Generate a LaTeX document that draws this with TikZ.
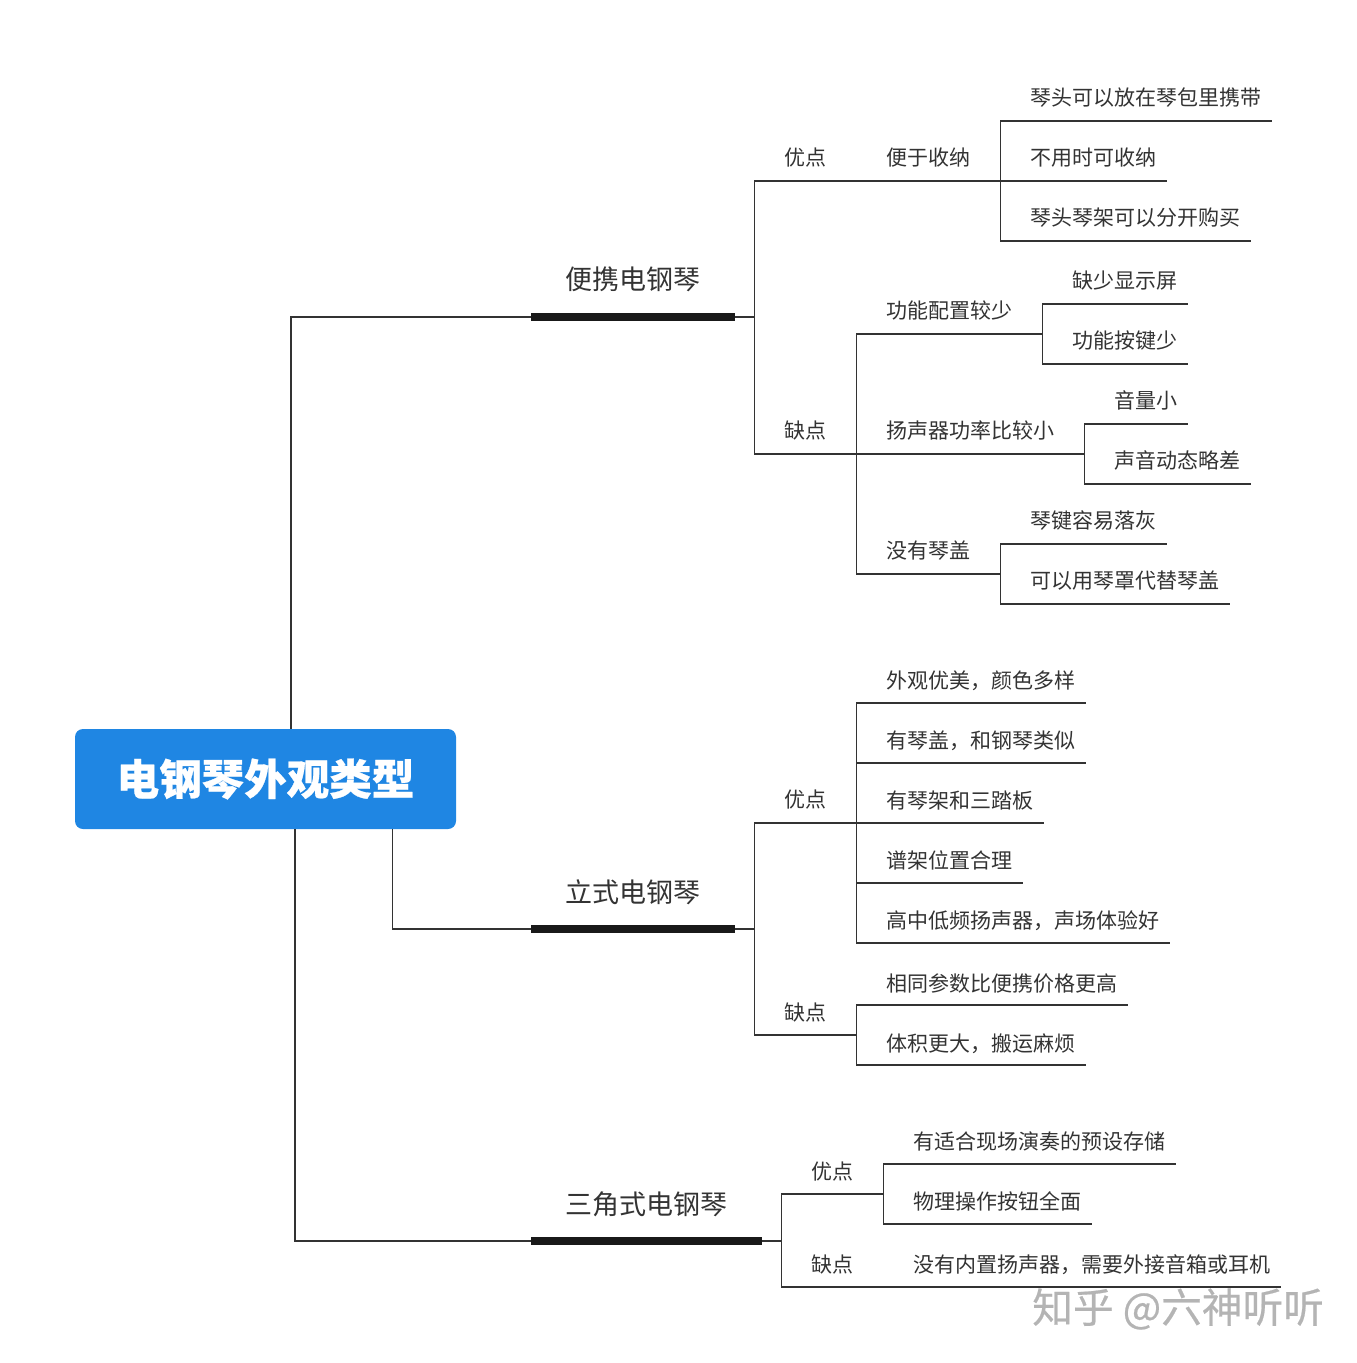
\documentclass[tikz,border=0pt]{standalone}
\usepackage{fontspec}
\setmainfont{Noto Sans CJK SC}
\newfontfamily\rootfont[FakeBold=0.6, BoldFeatures={FakeBold=0.6}]{Noto Sans CJK SC}
\newfontfamily\markfont[FakeBold=0.5]{Noto Sans CJK SC}
\definecolor{rootblue}{HTML}{1F86E3}
\definecolor{inkgrey}{HTML}{333333}
\definecolor{markgrey}{HTML}{B4B4B4}
\tikzstyle{link}=[draw=inkgrey, line width=1pt]
\tikzstyle{bar}=[draw=black!90, line width=6pt]
\tikzstyle{leaf}=[anchor=west, inner sep=0pt, xshift=-0.75pt, yshift=-0.4pt, text=inkgrey, font=\fontsize{15.75}{18}\selectfont]
\tikzstyle{heading}=[anchor=west, inner sep=0pt, xshift=-0.75pt, text=inkgrey, font=\fontsize{20.25}{24}\selectfont]

\begin{document}
\begin{tikzpicture}[x=0.75pt, y=-0.75pt]
    \useasboundingbox (0,0) rectangle (1356,1363);
% Root
    \node[fill=rootblue, rounded corners=6pt, minimum width=285.75pt, minimum height=75pt, inner sep=0pt, text=white, font=\fontsize{31.9}{36}\rootfont\bfseries] (root) at (265.5,779) {电钢琴外观类型};
% Headings
    \node[heading] (portable) at (566,279) {便携电钢琴};
    \node[heading] (upright) at (566,892) {立式电钢琴};
    \node[heading] (grand) at (566,1204) {三角式电钢琴};
% Portable: labels
    \node[leaf] (portGood) at (785,157) {优点};
    \node[leaf] (portBad) at (785,430) {缺点};
    \node[leaf] (store) at (887,157) {便于收纳};
    \node[leaf] (storeA) at (1031,97) {琴头可以放在琴包里携带};
    \node[leaf] (storeB) at (1031,157) {不用时可收纳};
    \node[leaf] (storeC) at (1031,217) {琴头琴架可以分开购买};
    \node[leaf] (func) at (887,310) {功能配置较少};
    \node[leaf] (funcA) at (1073,280) {缺少显示屏};
    \node[leaf] (funcB) at (1073,340) {功能按键少};
    \node[leaf] (speak) at (887,430) {扬声器功率比较小};
    \node[leaf] (speakA) at (1115,400) {音量小};
    \node[leaf] (speakB) at (1115,460) {声音动态略差};
    \node[leaf] (cover) at (887,550) {没有琴盖};
    \node[leaf] (coverA) at (1031,520) {琴键容易落灰};
    \node[leaf] (coverB) at (1031,580) {可以用琴罩代替琴盖};
% Upright: labels
    \node[leaf] (upGood) at (785,799) {优点};
    \node[leaf] (upBad) at (785,1012) {缺点};
    \node[leaf] (upA) at (887,680) {外观优美，颜色多样};
    \node[leaf] (upB) at (887,740) {有琴盖，和钢琴类似};
    \node[leaf] (upC) at (887,800) {有琴架和三踏板};
    \node[leaf] (upD) at (887,860) {谱架位置合理};
    \node[leaf] (upE) at (887,920) {高中低频扬声器，声场体验好};
    \node[leaf] (upF) at (887,983) {相同参数比便携价格更高};
    \node[leaf] (upG) at (887,1043) {体积更大，搬运麻烦};
% Grand: labels
    \node[leaf] (grGood) at (812,1171) {优点};
    \node[leaf] (grBad) at (812,1264) {缺点};
    \node[leaf] (grA) at (914,1141) {有适合现场演奏的预设存储};
    \node[leaf] (grB) at (914,1201) {物理操作按钮全面};
    \node[leaf] (grC) at (914,1264) {没有内置扬声器，需要外接音箱或耳机};
% Joints
    \coordinate (rootTop) at (291,729);
    \coordinate (rootMid) at (392.5,829);
    \coordinate (rootLow) at (295,829);
    \coordinate (portL) at (531,317);
    \coordinate (portR) at (735,317);
    \coordinate (portJ) at (754.5,317);
    \coordinate (upL) at (531,929);
    \coordinate (upR) at (735,929);
    \coordinate (upJ) at (754.5,929);
    \coordinate (grL) at (531,1241);
    \coordinate (grR) at (762,1241);
    \coordinate (grJ) at (781.5,1241);
    \coordinate (portGoodJ) at (856.5,181);
    \coordinate (storeJ) at (1000.5,181);
    \coordinate (portBadJ) at (856.5,454);
    \coordinate (funcJ) at (1042.5,334);
    \coordinate (speakJ) at (1084.5,454);
    \coordinate (coverJ) at (1000.5,574);
    \coordinate (upGoodJ) at (856.5,823);
    \coordinate (upBadJ) at (856.5,1035);
    \coordinate (grGoodJ) at (883.5,1194);
    \coordinate (grBadJ) at (883.5,1287);
% Portable: underline ends
    \coordinate (storeAe) at (1272,121);
    \coordinate (storeBe) at (1167,181);
    \coordinate (storeCe) at (1251,241);
    \coordinate (funcAe) at (1188,304);
    \coordinate (funcBe) at (1188,364);
    \coordinate (speakAe) at (1188,424);
    \coordinate (speakBe) at (1251,484);
    \coordinate (coverAe) at (1167,544);
    \coordinate (coverBe) at (1230,604);
% Upright: underline ends
    \coordinate (upAe) at (1086,703);
    \coordinate (upBe) at (1086,763);
    \coordinate (upCe) at (1044,823);
    \coordinate (upDe) at (1023,883);
    \coordinate (upEe) at (1170,943);
    \coordinate (upFe) at (1128,1005);
    \coordinate (upGe) at (1086,1065);
% Grand: underline ends
    \coordinate (grAe) at (1176,1164);
    \coordinate (grBe) at (1092,1224);
    \coordinate (grCe) at (1281,1287);
% Root branches
    \draw[link] (rootTop) |- (portL) -- (portJ);
    \draw[link] (rootMid) |- (upL) -- (upJ);
    \draw[link] (rootLow) |- (grL) -- (grJ);
    \draw[bar] (portL) -- (portR);
    \draw[bar] (upL) -- (upR);
    \draw[bar] (grL) -- (grR);
% Portable branches
    \draw[link] (portJ) |- (storeJ);
    \draw[link] (portJ) |- (speakJ);
    \draw[link] (storeJ) |- (storeAe);
    \draw[link] (storeJ) -- (storeBe);
    \draw[link] (storeJ) |- (storeCe);
    \draw[link] (portBadJ) |- (funcJ);
    \draw[link] (funcJ) |- (funcAe);
    \draw[link] (funcJ) |- (funcBe);
    \draw[link] (speakJ) |- (speakAe);
    \draw[link] (speakJ) |- (speakBe);
    \draw[link] (portBadJ) |- (coverJ);
    \draw[link] (coverJ) |- (coverAe);
    \draw[link] (coverJ) |- (coverBe);
% Upright branches
    \draw[link] (upJ) |- (upGoodJ);
    \draw[link] (upJ) |- (upBadJ);
    \draw[link] (upGoodJ) |- (upAe);
    \draw[link] (upGoodJ) |- (upBe);
    \draw[link] (upGoodJ) -- (upCe);
    \draw[link] (upGoodJ) |- (upDe);
    \draw[link] (upGoodJ) |- (upEe);
    \draw[link] (upBadJ) |- (upFe);
    \draw[link] (upBadJ) |- (upGe);
% Grand branches
    \draw[link] (grJ) |- (grGoodJ);
    \draw[link] (grJ) |- (grBadJ);
    \draw[link] (grGoodJ) |- (grAe);
    \draw[link] (grGoodJ) |- (grBe);
    \draw[link] (grBadJ) -- (grCe);
% Watermark
    \node[anchor=west, inner sep=0pt, text=markgrey, font=\fontsize{30.5}{34}\markfont] (mark) at (1032,1309) {知乎 @六神听听};
\end{tikzpicture}
\end{document}
